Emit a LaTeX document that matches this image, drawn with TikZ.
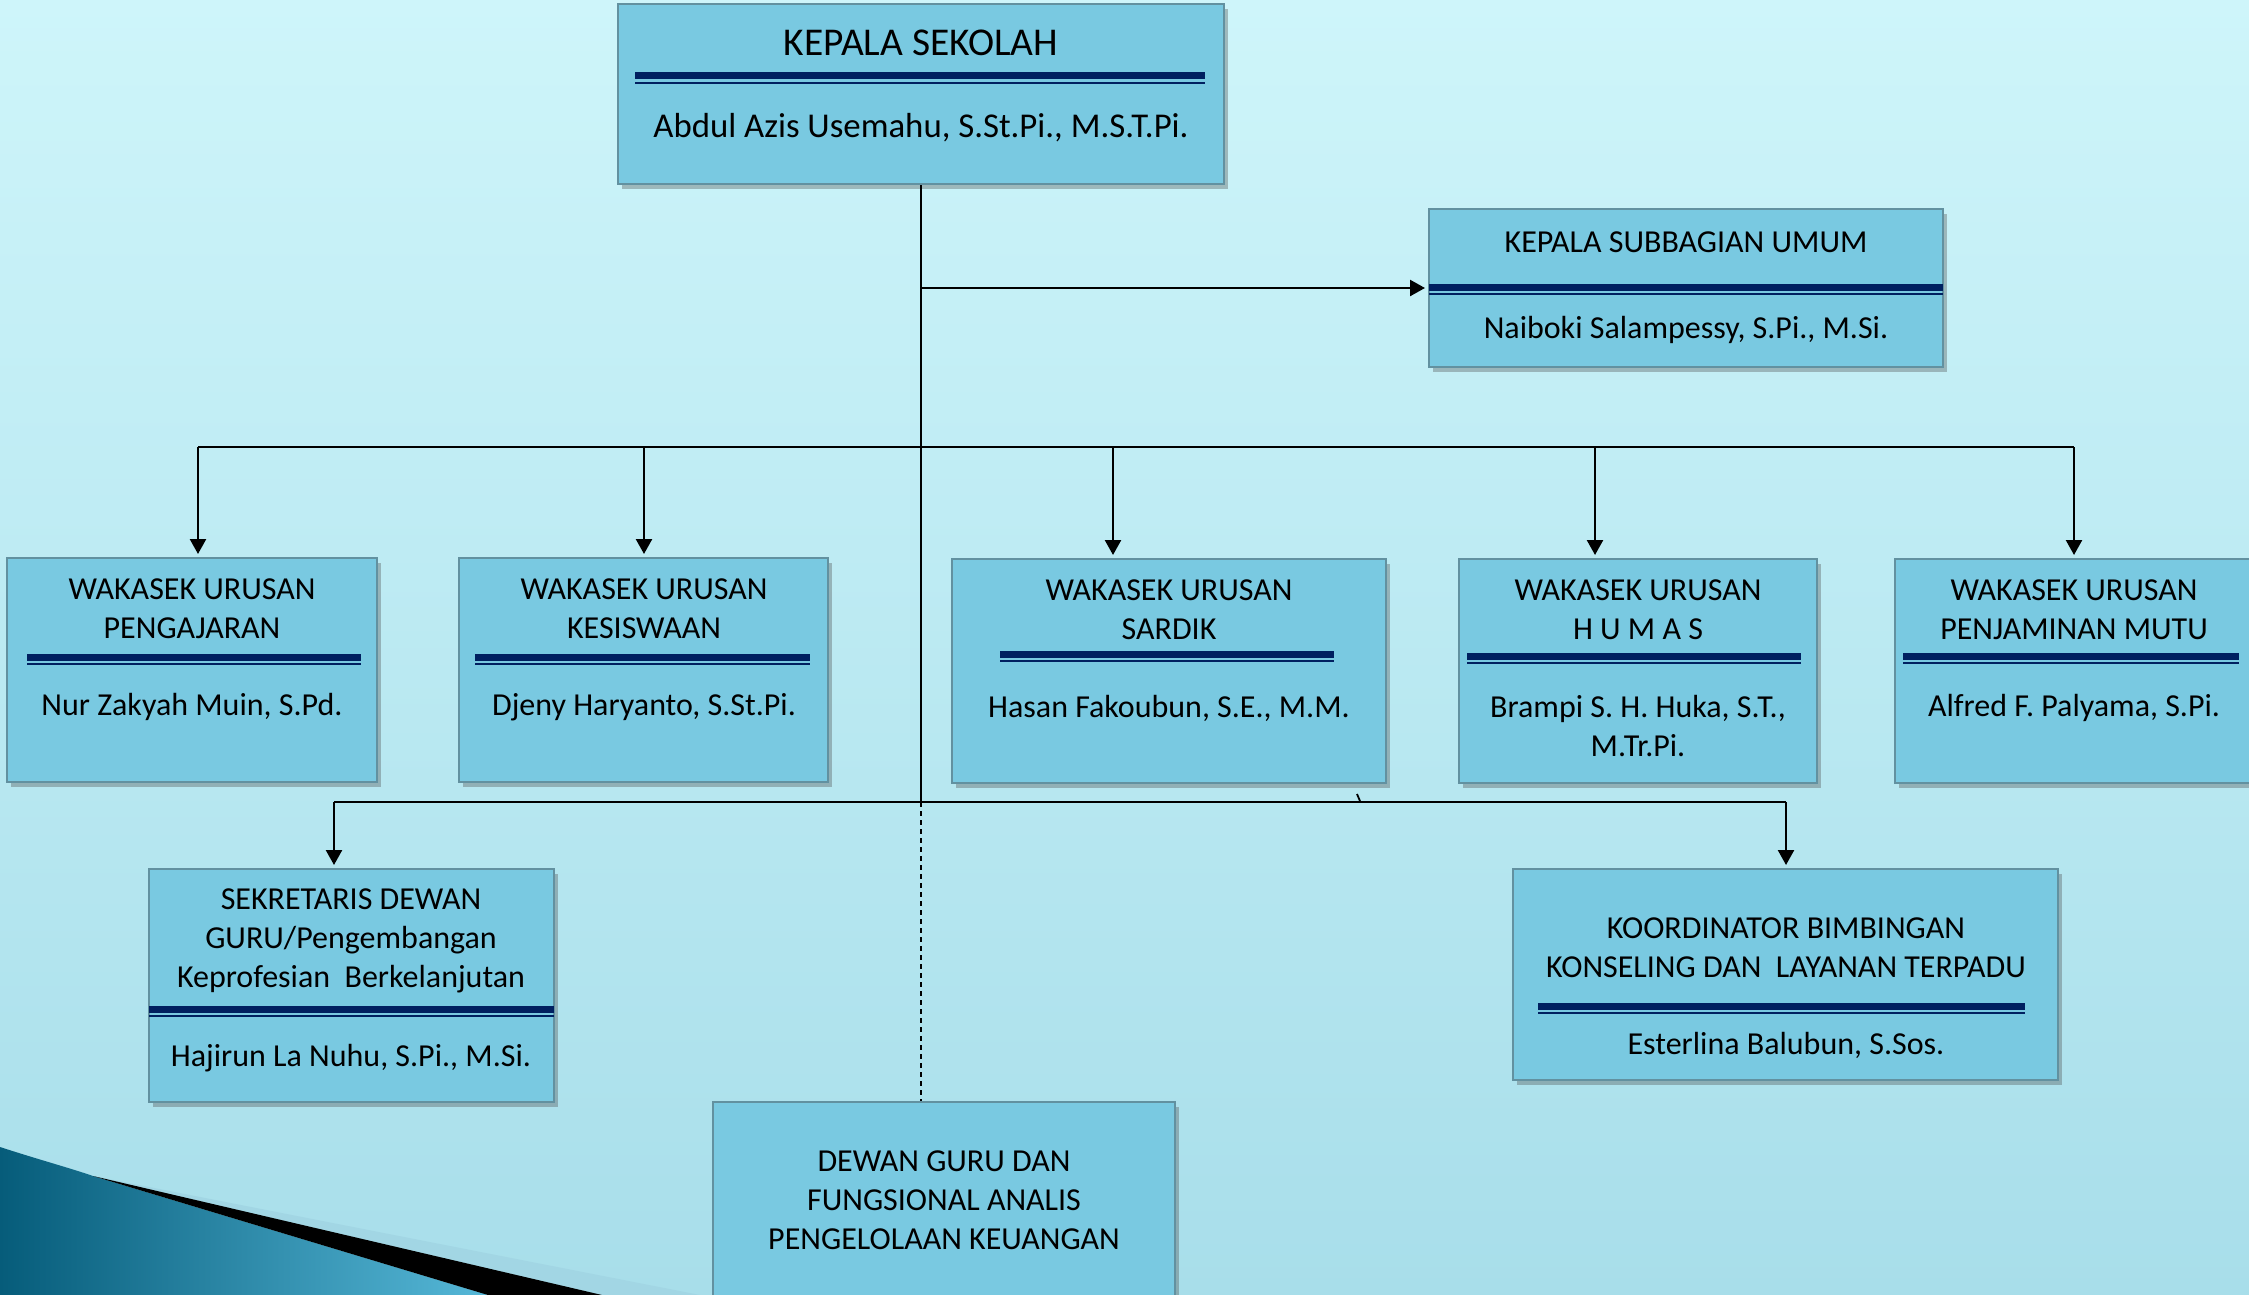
\documentclass[tikz,border=0pt]{standalone}
\usepackage{fontspec}
\setmainfont{Carlito}
\usetikzlibrary{arrows.meta,shadows}
\definecolor{bgtop}{RGB}{206,245,250}
\definecolor{bgbot}{RGB}{168,222,234}
\definecolor{boxfill}{RGB}{121,201,225}
\definecolor{boxedge}{RGB}{98,145,160}
\definecolor{navy}{RGB}{0,32,96}
\definecolor{tealdark}{RGB}{6,92,122}
\definecolor{teallight}{RGB}{86,184,216}
\definecolor{band}{RGB}{162,214,228}
\tikzset{
 orgbox/.style={draw=boxedge, line width=1pt, fill=boxfill, drop shadow={shadow xshift=2pt, shadow yshift=-2.5pt, opacity=0.35, fill=black!70}, inner sep=0pt},
 lbl/.style={align=center, font=\fontsize{16}{19.4}\selectfont, inner sep=0pt, text=black},
 conn/.style={line width=1.2pt, black},
 arr/.style={conn, -{Triangle[length=7.5pt,width=8pt]}, shorten >=1.5pt},
}
\newcommand{\dbl}[3]{\fill[navy] (#1,#3-3.5) rectangle (#2,#3+3.5); \fill[navy] (#1,#3+6) rectangle (#2,#3+8);}
\begin{document}
\begin{tikzpicture}[x=0.5pt,y=-0.5pt]
\useasboundingbox (0,0) rectangle (2249,1295);
\clip (0,0) rectangle (2249,1295);
\shade[top color=bgtop,bottom color=bgbot] (0,0) rectangle (2249,1295);
% bottom-left decoration
\fill[band] (93,1176) -- (602,1295) -- (700,1295) -- cycle;
\shade[left color=tealdark,right color=teallight] (0,1147) .. controls (40,1160) and (70,1168) .. (93,1176) -- (488,1295) -- (0,1295) -- cycle;
\fill[black] (93,1176) -- (602,1295) -- (488,1295) -- cycle;

% boxes
\node[orgbox, minimum width=303pt, minimum height=90pt] (k) at (921,94) {};
\node[orgbox, minimum width=257pt, minimum height=79pt] (ks) at (1686,288) {};
\node[orgbox, minimum width=185pt, minimum height=112pt] (w1) at (192,670) {};
\node[orgbox, minimum width=184.5pt, minimum height=112pt] (w2) at (643.5,670) {};
\node[orgbox, minimum width=217pt, minimum height=112pt] (w3) at (1169,671) {};
\node[orgbox, minimum width=179pt, minimum height=112pt] (w4) at (1638,671) {};
\node[orgbox, minimum width=179pt, minimum height=112pt] (w5) at (2074,671) {};
\node[orgbox, minimum width=202.5pt, minimum height=116.5pt] (sek) at (351.5,985.5) {};
\node[orgbox, minimum width=272.5pt, minimum height=105.5pt] (kor) at (1785.5,974.5) {};
\node[orgbox, minimum width=231pt, minimum height=101.5pt] (dg) at (944,1203.5) {};

% texts
\node[lbl, font=\fontsize{19.7}{22}\selectfont] (k-t) at (921,43) {KEPALA SEKOLAH};
\dbl{635}{1205}{76}
\node[lbl, font=\fontsize{17.4}{20}\selectfont] (k-n) at (921,128) {Abdul Azis Usemahu, S.St.Pi., M.S.T.Pi.};

\node[lbl] (ks-t) at (1686,242) {KEPALA SUBBAGIAN UMUM};
\dbl{1429}{1943}{287}
\node[lbl] (ks-n) at (1686,330) {Naiboki Salampessy, S.Pi., M.Si.};

\node[lbl] (w1-t) at (192,609) {WAKASEK URUSAN\\PENGAJARAN};
\dbl{27}{361}{657}
\node[lbl] (w1-n) at (192,707) {Nur Zakyah Muin, S.Pd.};

\node[lbl] (w2-t) at (644,609) {WAKASEK URUSAN\\KESISWAAN};
\dbl{475}{810}{657}
\node[lbl] (w2-n) at (644,707) {Djeny Haryanto, S.St.Pi.};

\node[lbl] (w3-t) at (1169,610) {WAKASEK URUSAN\\SARDIK};
\dbl{1000}{1334}{654}
\node[lbl] (w3-n) at (1169,708) {Hasan Fakoubun, S.E., M.M.};

\node[lbl] (w4-t) at (1638,610) {WAKASEK URUSAN\\H U M A S};
\dbl{1467}{1801}{656}
\node[lbl] (w4-n) at (1638,726) {Brampi S. H. Huka, S.T.,\\M.Tr.Pi.};

\node[lbl] (w5-t) at (2074,610) {WAKASEK URUSAN\\PENJAMINAN MUTU};
\dbl{1903}{2239}{656}
\node[lbl] (w5-n) at (2074,708) {Alfred F. Palyama, S.Pi.};

\node[lbl] (sek-t) at (351,941) {SEKRETARIS DEWAN\\GURU/Pengembangan\\Keprofesian\ \ Berkelanjutan};
\dbl{149}{554}{1009}
\node[lbl] (sek-n) at (351,1058) {Hajirun La Nuhu, S.Pi., M.Si.};

\node[lbl] (kor-t) at (1786,948) {KOORDINATOR BIMBINGAN\\KONSELING DAN\ \ LAYANAN TERPADU};
\dbl{1538}{2025}{1006}
\node[lbl] (kor-n) at (1786,1045) {Esterlina Balubun, S.Sos.};

\node[lbl] (dg-t) at (944,1200) {DEWAN GURU DAN\\FUNGSIONAL ANALIS\\PENGELOLAAN KEUANGAN};

% connectors
\coordinate (ja) at (921,288);
\coordinate (jb) at (921,802);
\coordinate (b1) at (198,447);
\coordinate (b2) at (644,447);
\coordinate (b3) at (1113,447);
\coordinate (b4) at (1595,447);
\coordinate (b5) at (2074,447);
\coordinate (c1) at (334,802);
\coordinate (c2) at (1786,802);
\draw[conn] (k.south -| ja) -- (jb);
\draw[conn, line width=0.8pt, dash pattern=on 2.5pt off 2pt] (jb) -- (jb |- dg.north);
\draw[arr] (ja) -- (ks.west);
\draw[conn] (b1) -- (b5);
\draw[arr] (b1) -- (b1 |- w1.north);
\draw[arr] (b2) -- (b2 |- w2.north);
\draw[arr] (b3) -- (b3 |- w3.north);
\draw[arr] (b4) -- (b4 |- w4.north);
\draw[arr] (b5) -- (b5 |- w5.north);
\draw[conn] (c1) -- (c2);
\draw[arr] (c1) -- (c1 |- sek.north);
\draw[arr] (c2) -- (c2 |- kor.north);
\coordinate (tk1) at (1357,794);
\coordinate (tk2) at (1360,801);
\draw[line width=0.9pt] (tk1) -- (tk2);
\end{tikzpicture}
\end{document}
